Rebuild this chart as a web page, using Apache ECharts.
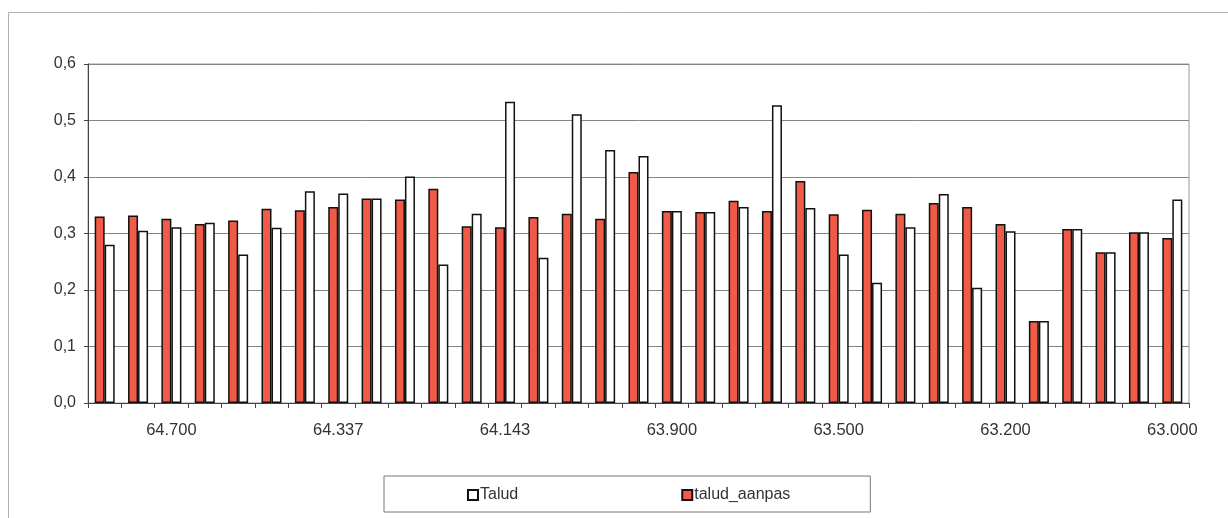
<!DOCTYPE html>
<html>
<head>
<meta charset="utf-8">
<script src="https://cdn.jsdelivr.net/npm/echarts@6/dist/echarts.min.js"></script>
<style>html,body{margin:0;padding:0;background:#fff;}#c{width:1228px;height:518px;}</style>
</head>
<body>
<div id="c"></div>
<script>
var categories = ['', '', '64.700', '', '', '', '', '64.337', '', '', '', '', '64.143', '', '', '', '', '63.900', '', '', '', '', '63.500', '', '', '', '', '63.200', '', '', '', '', '63.000'];
var taludAanpas = [0.330, 0.332, 0.326, 0.317, 0.323, 0.344, 0.341, 0.347, 0.362, 0.360, 0.379, 0.313, 0.311, 0.329, 0.335, 0.326, 0.409, 0.340, 0.338, 0.358, 0.340, 0.393, 0.334, 0.342, 0.335, 0.354, 0.347, 0.317, 0.145, 0.308, 0.267, 0.302, 0.292];
var talud = [0.280, 0.305, 0.311, 0.319, 0.263, 0.310, 0.375, 0.371, 0.362, 0.401, 0.245, 0.335, 0.533, 0.257, 0.511, 0.448, 0.437, 0.340, 0.338, 0.347, 0.527, 0.345, 0.263, 0.213, 0.311, 0.370, 0.204, 0.304, 0.145, 0.308, 0.267, 0.302, 0.360];
var yTicks = [0, 0.1, 0.2, 0.3, 0.4, 0.5, 0.6];

var chart = echarts.init(document.getElementById('c'), null, {renderer: 'canvas'});
var font = 'Liberation Sans, Arial, sans-serif';
chart.setOption({
  animation: false,
  backgroundColor: '#fff',
  textStyle: {fontFamily: font},
  graphic: [{
    type: 'rect', left: 6, top: 10, silent: true,
    shape: {width: 1220, height: 530},
    style: {fill: 'none', stroke: '#b0b0b0', lineWidth: 1}
  }],
  grid: {left: 88, right: 39, top: 64, bottom: 115, show: true, borderColor: '#9a9a9a', borderWidth: 1, backgroundColor: 'transparent'},
  legend: {
    data: ['Talud', 'talud_aanpas'],
    left: 384, top: 476, width: 487,
    padding: [11, 80, 9, 83],
    borderColor: '#777', borderWidth: 1,
    itemGap: 163, itemWidth: 10, itemHeight: 10,
    icon: 'rect',
    textStyle: {fontSize: 16, color: '#333', fontFamily: font, padding: [0, 0, 0, -3]}
  },
  xAxis: {
    type: 'category', data: categories,
    axisLine: {lineStyle: {color: '#444', width: 1}},
    axisTick: {show: true, interval: 0, length: 5, inside: false, lineStyle: {color: '#444'}},
    axisLabel: {interval: 0, color: '#333', fontSize: 16.5, margin: 19, fontFamily: font},
    splitLine: {show: false}
  },
  yAxis: {
    type: 'value', min: yTicks[0], max: yTicks[yTicks.length - 1], interval: 0.1,
    axisLine: {show: true, lineStyle: {color: '#444'}},
    axisTick: {show: true, length: 4, lineStyle: {color: '#444'}},
    axisLabel: {color: '#333', fontSize: 16, margin: 12, fontFamily: font,
      formatter: function (v) { return v.toFixed(1).replace('.', ','); }},
    splitLine: {show: true, lineStyle: {color: '#858585', width: 1}}
  },
  series: [{
    name: 'talud_aanpas', type: 'bar', data: taludAanpas,
    barWidth: 10, barGap: '0%',
    itemStyle: {color: '#f05a46', borderColor: '#111', borderWidth: 1.5}
  }, {
    name: 'Talud', type: 'bar', data: talud,
    barWidth: 10, barGap: '0%',
    itemStyle: {color: '#ffffff', borderColor: '#111', borderWidth: 1.5}
  }]
});
</script>
</body>
</html>
